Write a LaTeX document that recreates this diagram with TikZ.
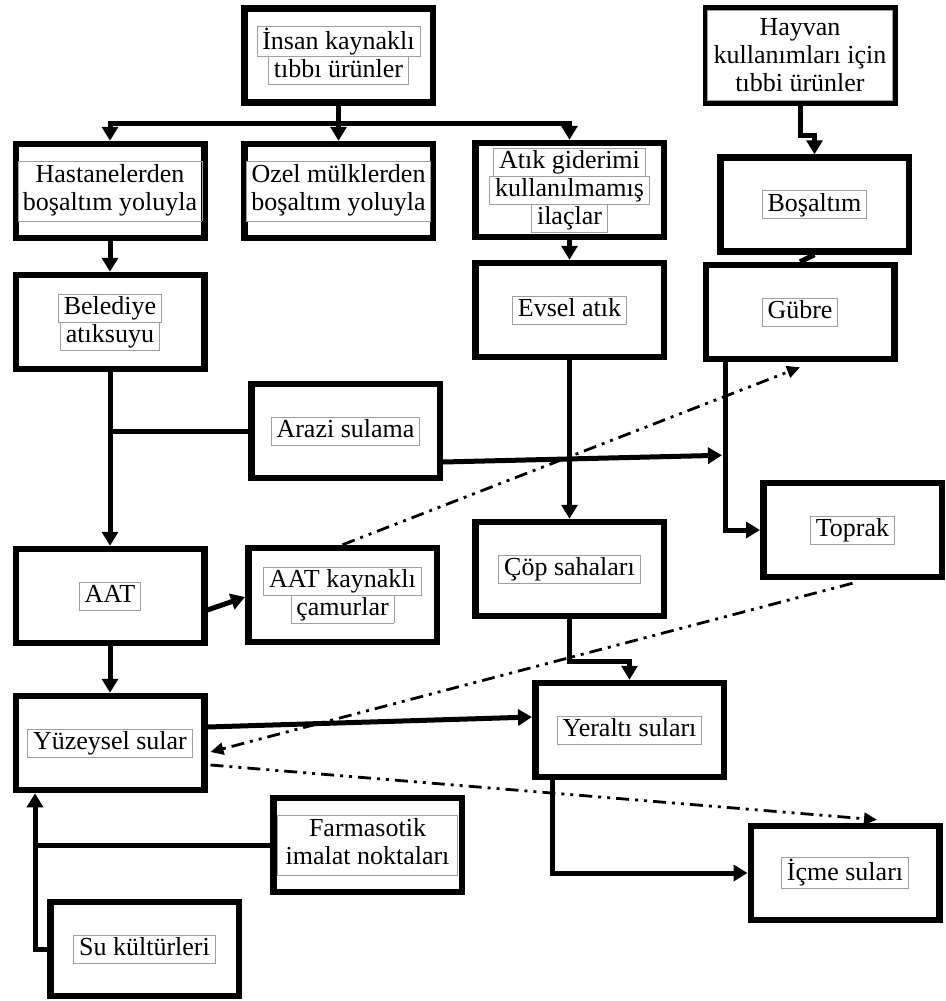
\documentclass[tikz,border=0pt]{standalone}
\usepackage{fontspec}
\setmainfont{Liberation Serif}
\usetikzlibrary{arrows.meta,calc}
\definecolor{fr}{gray}{0.62}
\newcommand{\bfnt}{\fontsize{26}{28}\selectfont}
\newcommand{\fl}[1]{{\setlength{\fboxsep}{1pt}\setlength{\fboxrule}{0.8pt}\fcolorbox{fr}{white}{\hspace{4pt}\rule[-6pt]{0pt}{25pt}#1\hspace{4pt}}}}
\newcommand{\fm}[2]{{\setlength{\fboxsep}{1.5pt}\setlength{\fboxrule}{0.8pt}\fcolorbox{fr}{white}{\parbox{#1}{\centering\strut #2\strut}}}}
\setlength{\lineskiplimit}{-100pt}
\begin{document}
\begin{tikzpicture}[x=1pt,y=-1pt,
 box/.style={draw,line width=6.5pt,minimum width=188.5pt,minimum height=94pt,inner sep=0pt,align=center,font=\bfnt},
 conn/.style={line width=5pt},
 arr/.style={conn,-{Triangle[length=14pt,width=16pt]}},
 dd/.style={line width=2.8pt,dash pattern=on 13pt off 6pt on 3pt off 6pt on 3pt off 6pt,-{Triangle[length=13pt,width=12pt]}}]
\useasboundingbox (0,0) rectangle (945,1001);
\fill[white] (0,0) rectangle (945,1001);
% nodes
\node[box] (insan) at (338.5,55.5) {\fl{İnsan kaynaklı}\\\fl{tıbbı ürünler}};
\node[box] (hast) at (110,191) {\fm{180pt}{Hastanelerden\\boşaltım yoluyla}};
\node[box] (ozel) at (338.5,191) {\fm{180pt}{Ozel mülklerden\\boşaltım yoluyla}};
\node[box] (atik) at (569.5,190) {\fl{Atık giderimi}\\\fl{kullanılmamış}\\\fl{ilaçlar}};
\node[box] (hayvan) at (800,55.5) {\setlength{\fboxsep}{1.5pt}\setlength{\fboxrule}{0.8pt}\fcolorbox{fr}{white}{\parbox[c][86pt][c]{181pt}{\centering Hayvan\\kullanımları için\\tıbbi ürünler}}};
\node[box] (bosal) at (814.5,204.5) {\fl{Boşaltım}};
\node[box] (evsel) at (569.5,310) {\fl{Evsel atık}};
\node[box] (gubre) at (800,312) {\fl{Gübre}};
\node[box] (beled) at (110,322) {\fl{Belediye}\\\fl{atıksuyu}};
\node[box] (arazi) at (345.5,431) {\fl{Arazi sulama}};
\node[box] (aat) at (110,596) {\fl{AAT}};
\node[box] (camur) at (342.5,595) {\fl{AAT kaynaklı}\\\fl{çamurlar}};
\node[box,minimum width=178.5pt] (toprak) at (852.5,530) {\fl{Toprak}};
\node[box] (cop) at (569.5,569) {\fl{Çöp sahaları}};
\node[box] (yuzey) at (110,743) {\fl{Yüzeysel sular}};
\node[box] (farma) at (367.5,845) {\fm{176pt}{Farmasotik\\imalat noktaları}};
\node[box] (su) at (144.5,949) {\fl{Su kültürleri}};
\node[box] (yeralti) at (629.5,730) {\fl{Yeraltı suları}};
\node[box] (icme) at (845,873) {\fl{İçme suları}};
% connectors
\coordinate (bus) at (338.5,123);
\draw[conn,line cap=rect] (hast.north |- bus) -- (atik.north |- bus);
\draw[arr] (insan.south) -- (ozel.north);
\draw[arr] (hast.north |- bus) -- (hast.north);
\draw[arr] (atik.north |- bus) -- (atik.north);
\coordinate (hj) at (800,135);
\draw[arr] (hayvan.south) -- (hj) -| (bosal.north);
\draw[conn] (bosal.south) -- (gubre.north);
\draw[arr] (hast.south) -- (beled.north);
\draw[arr] (atik.south) -- (evsel.north);
\draw[arr] (beled.south) -- (aat.north);
\draw[conn] (beled.south |- arazi.west) -- (arazi.west);
\coordinate (gx) at ($(gubre.south)+(-75,0)$);
\draw[arr] (gx) |- (toprak.west);
\draw[arr] ($(arazi.east)+(0,31)$) -- ($(gx)+(-3,93)$);
\draw[arr] ($(aat.east)+(0,14)$) -- ($(camur.west)+(0,2)$);
\draw[dd] (camur.north) -- ($(gubre.south)+(0,5)$);
\draw[arr] (evsel.south) -- (cop.north);
\draw[arr] (cop.south) -- ++(0,42) -| (yeralti.north);
\draw[arr] (aat.south) -- (yuzey.north);
\draw[arr] ($(yuzey.east)+(0,-16)$) -- ($(yeralti.west)+(0,-13)$);
\draw[dd] ($(toprak.south)+(0,3)$) -- ($(yuzey.east)+(3,9)$);
\draw[dd] ($(yuzey.east)+(3,22)$) -- ($(icme.north)+(32,-3)$);
\draw[arr] ($(yeralti.south)+(-77,0)$) |- (icme.west);
\coordinate (sx) at ($(yuzey.south)+(-75,0)$);
\draw[arr] (su.west) -| (sx);
\draw[conn] (farma.west) -- (sx |- farma.west);
\end{tikzpicture}
\end{document}
